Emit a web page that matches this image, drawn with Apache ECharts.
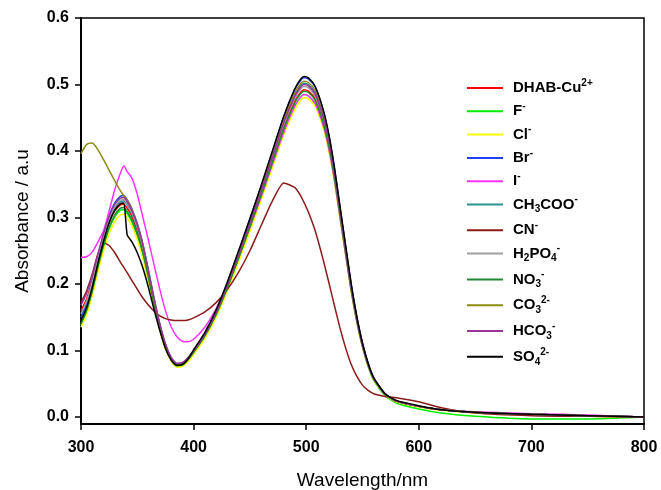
<!DOCTYPE html>
<html><head><meta charset="utf-8">
<script src="https://cdn.jsdelivr.net/npm/echarts@6/dist/echarts.min.js"></script>
<style>html,body{margin:0;padding:0;background:#fff}#c{width:661px;height:490px}</style>
</head><body><div id="c"></div>
<script>
const wavelengths = [300,305,310,315,320,325,330,335,338,341,345,350,355,360,365,370,375,380,385,390,395,400,410,420,430,440,450,460,470,480,490,495,498,502,508,515,520,525,530,535,540,545,550,555,560,570,580,600,620,650,700,750,800];

const seriesNames = ['DHAB-Cu2+','F-','Cl-','Br-','I-','CH3COO-','CN-','H2PO4-','NO3-','CO32-','HCO3-','SO42-'];
const legendLabels = [
  '{n|DHAB-Cu}{sup|2+}','{n|F}{sup|-}','{n|Cl}{sup|-}','{n|Br}{sup|-}','{n|I}{sup|-}',
  '{n|CH}{sub|3}{n|COO}{sup|-}','{n|CN}{sup|-}','{n|H}{sub|2}{n|PO}{sub|4}{sup|-}',
  '{n|NO}{sub|3}{sup|-}','{n|CO}{sub|3}{sup|2-}','{n|HCO}{sub|3}{sup|-}','{n|SO}{sub|4}{sup|2-}'
];
const seriesColors = ['#ff0000','#00ee00','#ffff00','#2040ff','#ff33ff','#2a9090','#8b1a1a','#a0a0a0','#1e8c2e','#8b8b10','#993399','#000000'];

const dhabCu = [0.160,0.178,0.205,0.238,0.268,0.293,0.310,0.319,0.320,0.314,0.302,0.280,0.250,0.212,0.172,0.136,0.107,0.088,0.079,0.080,0.087,0.097,0.122,0.155,0.195,0.240,0.287,0.335,0.385,0.435,0.475,0.488,0.492,0.490,0.478,0.445,0.410,0.362,0.305,0.248,0.192,0.145,0.107,0.078,0.057,0.034,0.024,0.016,0.011,0.007,0.004,0.002,0.000];
const fluoride = [0.138,0.158,0.187,0.223,0.255,0.283,0.301,0.311,0.312,0.306,0.294,0.273,0.244,0.207,0.168,0.133,0.104,0.086,0.077,0.078,0.085,0.096,0.120,0.153,0.192,0.237,0.283,0.330,0.380,0.429,0.468,0.481,0.485,0.483,0.471,0.439,0.404,0.357,0.301,0.245,0.189,0.143,0.105,0.076,0.055,0.032,0.021,0.012,0.006,0.001,-0.003,-0.003,0.000];
const chloride = [0.135,0.154,0.183,0.218,0.250,0.276,0.294,0.304,0.305,0.299,0.288,0.267,0.238,0.202,0.164,0.130,0.102,0.084,0.075,0.076,0.083,0.094,0.118,0.150,0.189,0.233,0.279,0.326,0.375,0.424,0.463,0.476,0.480,0.478,0.467,0.435,0.401,0.354,0.299,0.243,0.188,0.142,0.105,0.077,0.056,0.033,0.023,0.015,0.010,0.006,0.003,0.001,0.000];
const bromide = [0.150,0.171,0.201,0.239,0.274,0.302,0.322,0.332,0.333,0.327,0.314,0.291,0.260,0.220,0.178,0.140,0.109,0.089,0.080,0.081,0.089,0.100,0.127,0.161,0.202,0.249,0.298,0.347,0.399,0.451,0.493,0.506,0.510,0.508,0.496,0.461,0.425,0.375,0.316,0.257,0.199,0.150,0.111,0.081,0.059,0.035,0.024,0.016,0.011,0.007,0.004,0.002,0.000];
const iodide = [0.240,0.241,0.248,0.263,0.280,0.310,0.342,0.367,0.378,0.369,0.360,0.335,0.300,0.265,0.228,0.192,0.160,0.136,0.121,0.114,0.113,0.117,0.135,0.163,0.198,0.240,0.285,0.331,0.380,0.428,0.468,0.481,0.485,0.483,0.471,0.439,0.404,0.357,0.301,0.245,0.190,0.144,0.106,0.078,0.057,0.034,0.024,0.016,0.011,0.008,0.005,0.003,0.000];
const acetate = [0.145,0.165,0.196,0.233,0.267,0.295,0.314,0.324,0.325,0.319,0.306,0.284,0.253,0.214,0.173,0.137,0.107,0.087,0.078,0.079,0.087,0.099,0.124,0.158,0.199,0.245,0.293,0.342,0.393,0.444,0.485,0.498,0.502,0.500,0.488,0.454,0.418,0.369,0.311,0.253,0.196,0.148,0.109,0.080,0.058,0.035,0.024,0.016,0.011,0.007,0.004,0.002,0.000];
const cyanide = [0.172,0.190,0.215,0.245,0.262,0.258,0.247,0.233,0.225,0.217,0.206,0.192,0.179,0.168,0.159,0.152,0.148,0.146,0.145,0.145,0.146,0.149,0.158,0.172,0.192,0.218,0.250,0.288,0.325,0.352,0.345,0.333,0.323,0.308,0.280,0.237,0.203,0.168,0.134,0.104,0.079,0.061,0.048,0.040,0.035,0.031,0.029,0.023,0.014,0.006,0.002,0.001,0.000];
const phosphate = [0.155,0.174,0.203,0.239,0.271,0.298,0.316,0.326,0.327,0.321,0.308,0.286,0.255,0.216,0.175,0.139,0.109,0.089,0.080,0.081,0.088,0.098,0.123,0.157,0.197,0.242,0.290,0.338,0.389,0.439,0.480,0.493,0.497,0.495,0.483,0.449,0.414,0.366,0.308,0.250,0.194,0.146,0.108,0.079,0.058,0.034,0.024,0.016,0.011,0.007,0.004,0.002,0.000];
const nitrate = [0.140,0.160,0.189,0.225,0.258,0.285,0.304,0.314,0.315,0.309,0.297,0.275,0.246,0.208,0.169,0.133,0.105,0.086,0.077,0.078,0.086,0.097,0.122,0.154,0.194,0.239,0.286,0.334,0.383,0.433,0.473,0.486,0.490,0.488,0.476,0.443,0.408,0.361,0.304,0.247,0.191,0.144,0.107,0.078,0.057,0.034,0.024,0.016,0.011,0.007,0.004,0.002,0.000];
const carbonate = [0.396,0.410,0.412,0.402,0.387,0.371,0.355,0.340,0.333,0.326,0.313,0.290,0.258,0.218,0.176,0.139,0.108,0.088,0.079,0.080,0.088,0.100,0.125,0.159,0.200,0.246,0.295,0.344,0.395,0.446,0.488,0.501,0.505,0.503,0.491,0.457,0.421,0.371,0.313,0.255,0.197,0.149,0.110,0.080,0.058,0.035,0.024,0.016,0.011,0.007,0.004,0.002,0.000];
const bicarbonate = [0.168,0.186,0.212,0.245,0.276,0.302,0.320,0.329,0.330,0.324,0.311,0.289,0.258,0.218,0.177,0.140,0.110,0.090,0.081,0.082,0.089,0.099,0.124,0.157,0.198,0.244,0.292,0.340,0.391,0.442,0.483,0.496,0.500,0.498,0.486,0.452,0.417,0.368,0.310,0.252,0.195,0.147,0.109,0.079,0.058,0.035,0.024,0.016,0.011,0.007,0.004,0.002,0.000];
const sulfate = [0.145,0.165,0.195,0.231,0.264,0.292,0.311,0.321,0.322,0.274,0.264,0.247,0.224,0.194,0.161,0.130,0.103,0.086,0.078,0.079,0.087,0.101,0.127,0.161,0.203,0.250,0.298,0.348,0.400,0.452,0.494,0.508,0.512,0.510,0.497,0.463,0.426,0.376,0.317,0.258,0.200,0.151,0.111,0.081,0.059,0.035,0.025,0.017,0.011,0.007,0.004,0.002,0.000];

const allValues = [dhabCu,fluoride,chloride,bromide,iodide,acetate,cyanide,phosphate,nitrate,carbonate,bicarbonate,sulfate];
const yTicks = [0,0.1,0.2,0.3,0.4,0.5,0.6];

const chart = echarts.init(document.getElementById('c'));
const FONT = 'Liberation Sans, Arial, sans-serif';
chart.setOption({
  animation: false,
  backgroundColor: '#fff',
  grid: {left: 81, right: 17, top: 18, bottom: 66, show: true, borderColor: '#000', borderWidth: 1.5,
    containLabel: false, outerBoundsMode: 'none'},
  xAxis: {
    type: 'value', min: 300, max: 800, interval: 100,
    name: 'Wavelength/nm', nameLocation: 'middle', nameGap: 47,
    nameTextStyle: {fontFamily: FONT, fontSize: 19, color: '#000'},
    axisLine: {onZero: false, lineStyle: {color: '#000', width: 2}},
    axisTick: {inside: false, length: 6, lineStyle: {color: '#000', width: 1.5}},
    axisLabel: {fontFamily: FONT, fontSize: 16, fontWeight: 'bold', color: '#000', margin: 16},
    splitLine: {show: false}
  },
  yAxis: {
    type: 'value', min: -0.0105, max: 0.6,
    name: 'Absorbance / a.u', nameLocation: 'middle', nameGap: 49,
    nameTextStyle: {fontFamily: FONT, fontSize: 19, color: '#000'},
    axisLine: {onZero: false, lineStyle: {color: '#000', width: 2}},
    axisTick: {inside: false, length: 6, customValues: yTicks, lineStyle: {color: '#000', width: 1.5}},
    axisLabel: {fontFamily: FONT, fontSize: 16, fontWeight: 'bold', color: '#000', margin: 12,
      customValues: yTicks, formatter: v => v.toFixed(1)},
    splitLine: {show: false}
  },
  legend: {
    show: true,
    orient: 'vertical', left: 462, top: 73,
    itemWidth: 36, itemHeight: 2, itemGap: 5.8, icon: 'rect',
    data: seriesNames,
    formatter: name => legendLabels[seriesNames.indexOf(name)],
    textStyle: {
      fontFamily: FONT, fontSize: 15, fontWeight: 'bold', color: '#000', padding: [0, 0, 0, 5],
      rich: {
        n: {fontFamily: FONT, fontSize: 15, fontWeight: 'bold', color: '#000', lineHeight: 20, verticalAlign: 'middle'},
        sup: {fontFamily: FONT, fontSize: 10, fontWeight: 'bold', color: '#000', lineHeight: 10, verticalAlign: 'top'},
        sub: {fontFamily: FONT, fontSize: 10, fontWeight: 'bold', color: '#000', lineHeight: 10, verticalAlign: 'bottom'}
      }
    }
  },
  series: seriesNames.map((nm, k) => ({
    name: nm, type: 'line', symbol: 'none', smooth: 0.2,
    color: seriesColors[k],
    lineStyle: {width: 1.5, color: seriesColors[k]},
    itemStyle: {color: seriesColors[k]},
    data: wavelengths.map((w, i) => [w, allValues[k][i]])
  }))
});
</script></body></html>
